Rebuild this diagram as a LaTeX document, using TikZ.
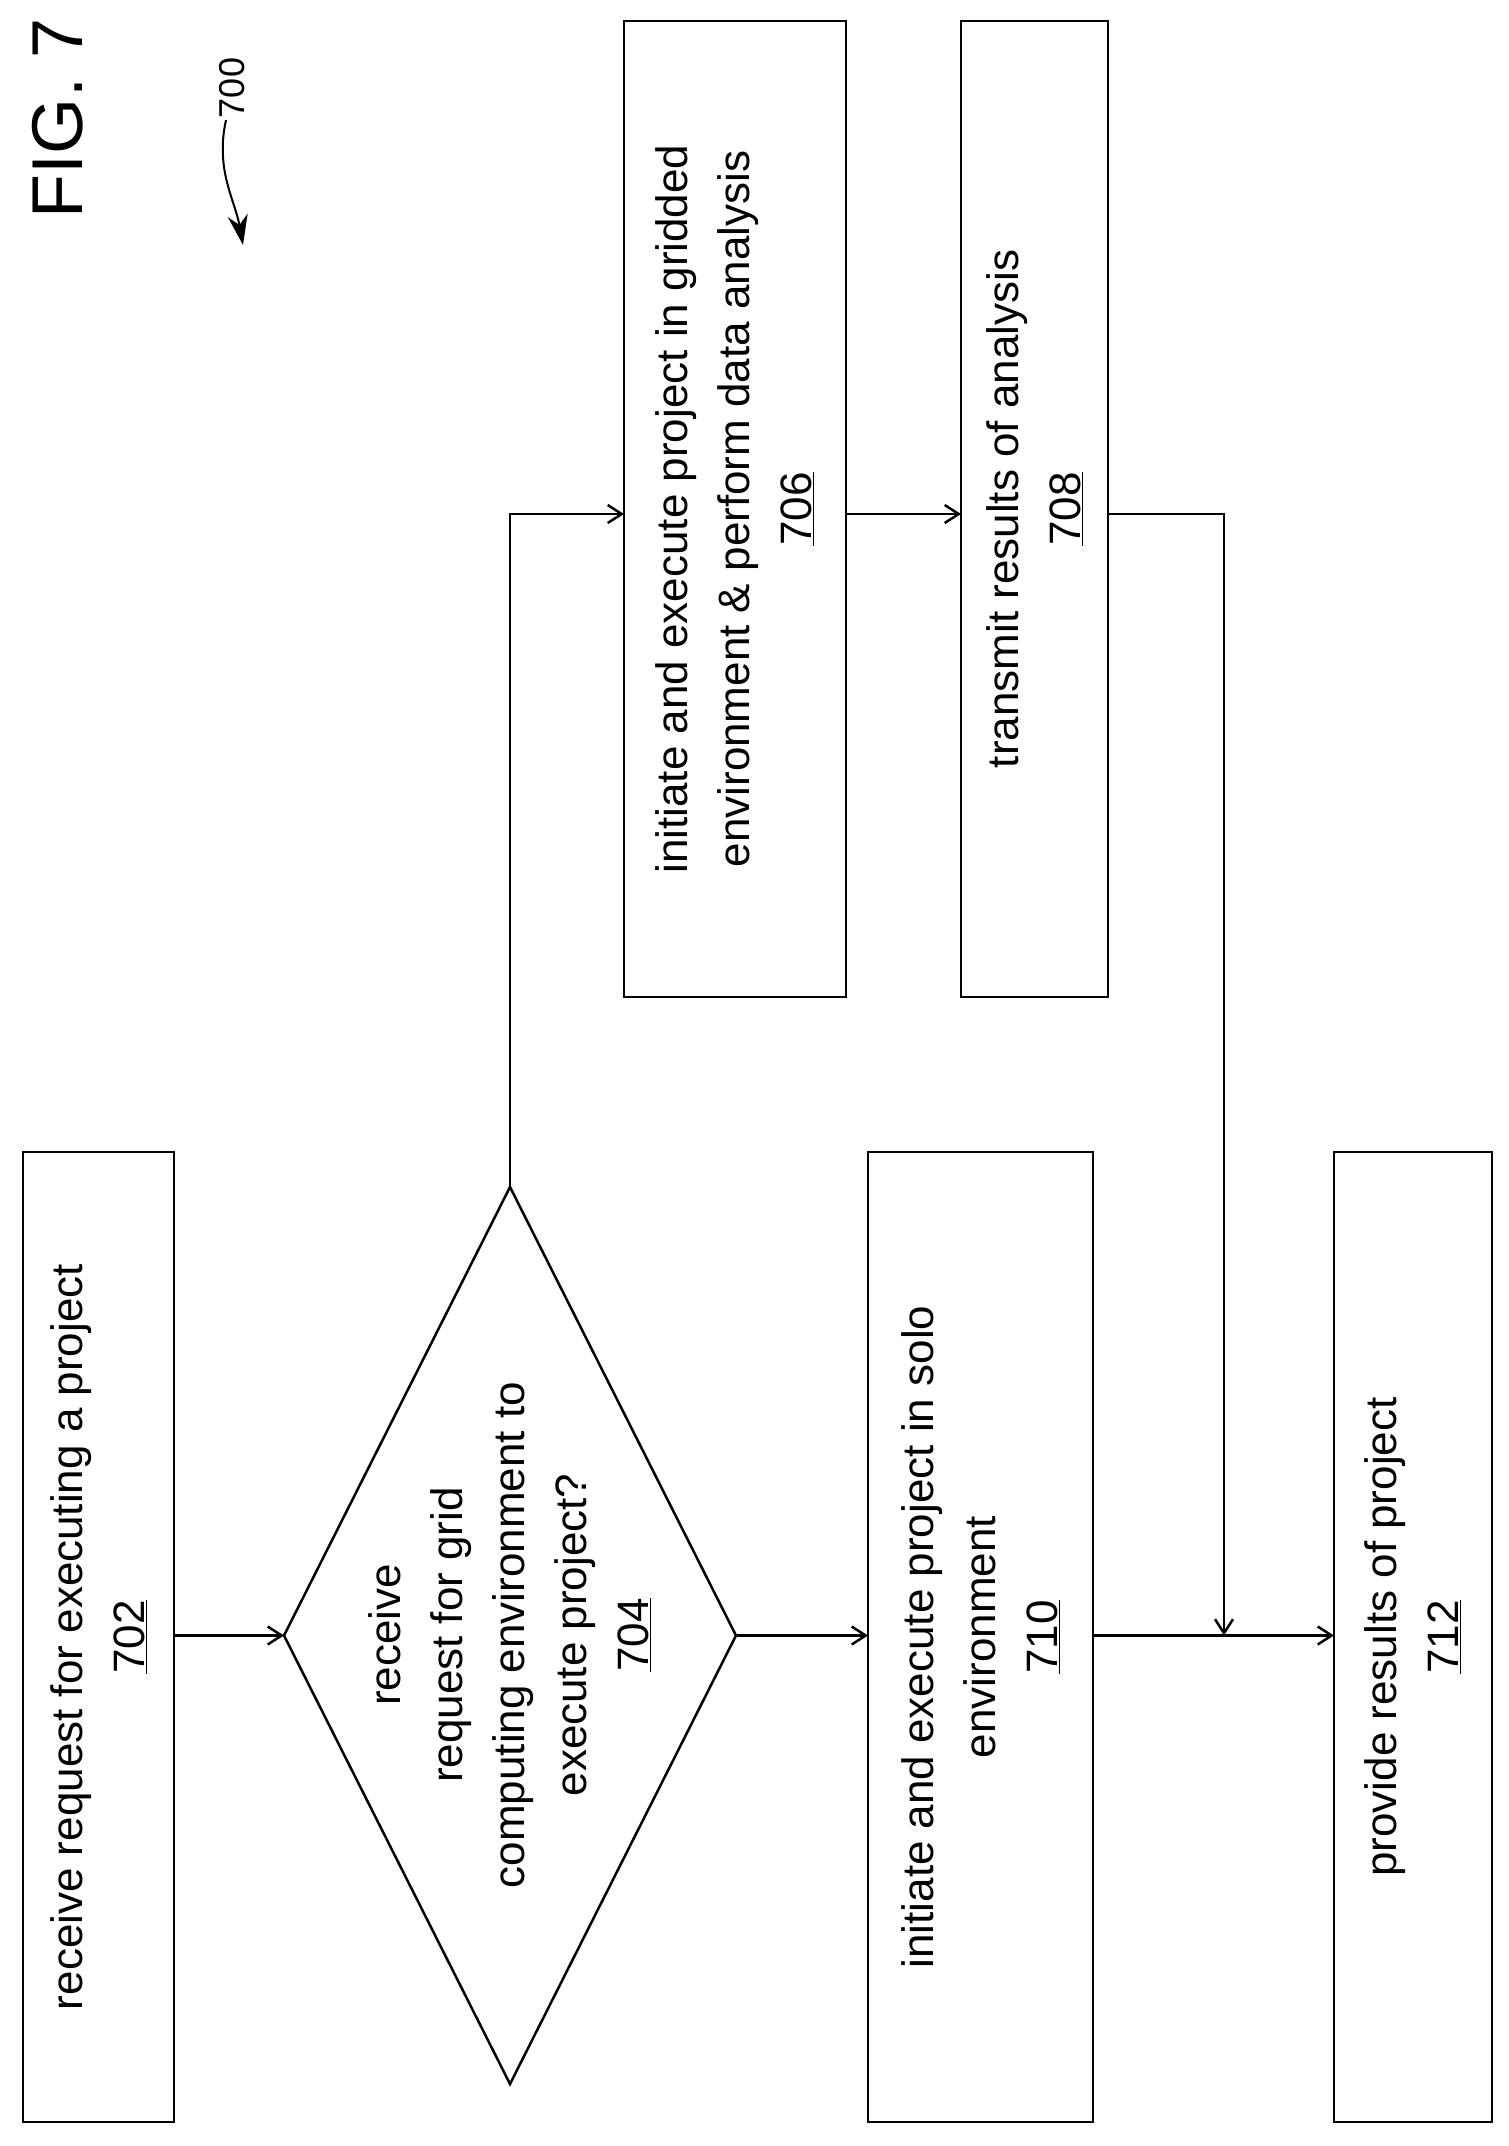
\documentclass[tikz,border=0pt]{standalone}
\usepackage{fontspec}
\setmainfont{Liberation Sans}
\usetikzlibrary{shapes.geometric,arrows.meta}
\begin{document}
\begin{tikzpicture}[x=1pt,y=-1pt,line width=2.5pt,
  box/.style={draw,rectangle,inner sep=0,outer sep=0},
  txt/.style={rotate=90,align=center,font=\fontsize{44}{62}\selectfont,inner sep=0},
  arr/.style={-{Straight Barb[length=14pt,width=18pt,line width=2.5pt]}}]
\useasboundingbox (0,0) rectangle (1508,2146);
\node[box,minimum width=151,minimum height=970] (b702) at (98.5,1637) {};
\node[txt] (t702) at (b702) {receive request for executing a project\\\underline{702}};
\node[draw,diamond,inner sep=0,outer sep=0,minimum width=452,minimum height=897] (d704) at (510,1635.5) {};
\node[txt] (t704) at (510,1635) {receive\\request for grid\\computing environment to\\execute project?\\\underline{704}};
\node[box,minimum width=225,minimum height=970] (b710) at (980.5,1637) {};
\node[txt] (t710) at (b710) {initiate and execute project in solo\\environment\\\underline{710}};
\node[box,minimum width=158,minimum height=970] (b712) at (1413,1637) {};
\node[txt] (t712) at (b712) {provide results of project\\\underline{712}};
\node[box,minimum width=222,minimum height=976] (b706) at (735,509) {};
\node[txt] (t706) at (b706) {initiate and execute project in gridded\\environment \& perform data analysis\\\underline{706}};
\node[box,minimum width=147,minimum height=976] (b708) at (1034.5,509) {};
\node[txt] (t708) at (b708) {transmit results of analysis\\\underline{708}};
\coordinate (c1) at (510,514);
\coordinate (c2) at (1224,514);
\coordinate (c3) at (1224,1635.5);
\draw[arr] (b702.east |- d704.west) -- (d704.west);
\draw[arr] (d704.north) -- (c1) -- (c1 -| b706.west);
\draw[arr] (c1 -| b706.east) -- (c1 -| b708.west);
\draw[arr] (c1 -| b708.east) -- (c2) -- (c3);
\draw[arr] (d704.east) -- (d704.east -| b710.west);
\draw[arr] (d704.east -| b710.east) -- (d704.east -| b712.west);
\node[rotate=90,font=\fontsize{72}{80}\selectfont,inner sep=0] (fig) at (58,118) {FIG. 7};
\node[rotate=90,font=\fontsize{36}{40}\selectfont,inner sep=0] (n700) at (232,88) {700};
\coordinate (s1) at (226,120);
\coordinate (s2) at (243,245);
\draw[line width=2pt,-{Stealth[length=30pt,width=20pt]}] (s1) .. controls (215,170) and (235,200) .. (s2);
\end{tikzpicture}
\end{document}
